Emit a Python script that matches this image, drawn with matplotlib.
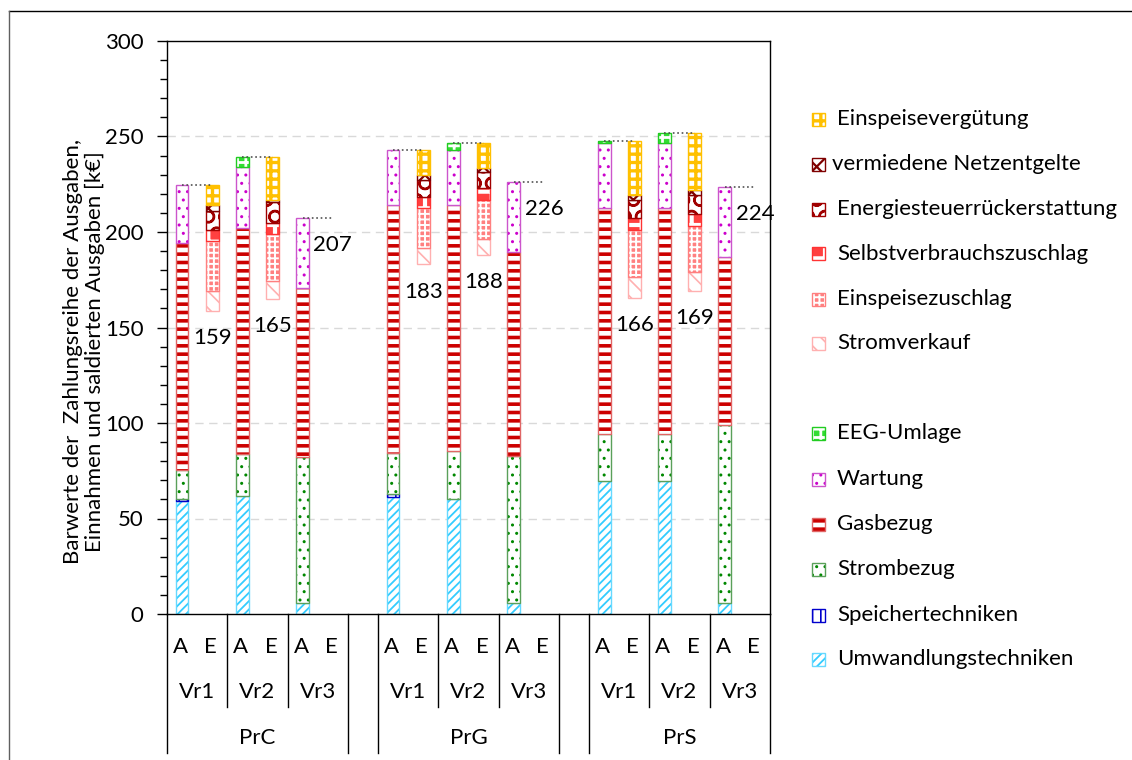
import matplotlib
matplotlib.use('Agg')
import matplotlib.pyplot as plt
from matplotlib.patches import Rectangle
from matplotlib.lines import Line2D
import matplotlib.transforms as mtransforms
from matplotlib.ticker import MultipleLocator

plt.rcParams['font.family'] = ['Lato', 'DejaVu Sans']

# *** Data (k€), order: PrC Vr1..Vr3, PrG Vr1..Vr3, PrS Vr1..Vr3 ***
groups = ['PrC', 'PrG', 'PrS']
variants = ['Vr1', 'Vr2', 'Vr3']

# Ausgaben (A)
umwandlung = [59.0, 62.0, 5.8, 61.5, 60.2, 5.8, 69.8, 69.8, 5.8]
speicher = [1.2, 0.0, 0.0, 1.3, 0.0, 0.0, 0.0, 0.0, 0.0]
strombezug = [15.2, 21.8, 76.6, 21.5, 25.0, 77.1, 24.5, 24.5, 93.2]
gasbezug = [118.6, 118.4, 88.3, 129.6, 128.7, 106.5, 118.3, 118.3, 87.8]
wartung = [30.7, 31.7, 36.5, 29.1, 29.1, 36.7, 34.1, 33.9, 36.9]
eeg_umlage = [0.0, 5.6, 0.0, 0.0, 3.7, 0.0, 1.2, 5.4, 0.0]

# Einnahmen (E)
stromverkauf = [10.2, 9.8, 0.0, 8.5, 8.4, 0.0, 10.6, 9.9, 0.0]
einspeisezuschlag = [26.2, 24.4, 0.0, 21.1, 20.6, 0.0, 24.8, 24.5, 0.0]
selbstverbrauch = [5.6, 5.8, 0.0, 5.6, 5.9, 0.0, 6.3, 6.1, 0.0]
energiesteuer = [10.4, 11.0, 0.0, 8.8, 8.4, 0.0, 9.1, 10.1, 0.0]
netzentgelte = [3.0, 1.2, 0.0, 2.6, 2.1, 0.0, 3.1, 2.5, 0.0]
einspeiseverguetung = [10.5, 22.5, 0.0, 13.4, 13.3, 0.0, 28.3, 29.8, 0.0]

# name: (face, hatch colour, hatch, outline, hatch linewidth)
styles = {
	'Umwandlungstechniken': ('white', '#33CCFF', '////', '#66D9FF', 1.3),
	'Speichertechniken': ('white', '#0000CC', '||', '#0000CC', 1.2),
	'Strombezug': ('white', '#008800', '..', '#5AA05A', 1.0),
	'Gasbezug': ('white', '#CC0000', '--', '#E06666', 2.6),
	'Wartung': ('white', '#CC00CC', '..', '#CC55CC', 1.0),
	'EEG-Umlage': ('#33DD33', 'white', '++', '#22CC22', 2.0),
	'Einspeisevergütung': ('white', '#FFC000', '++', '#FFC000', 2.4),
	'vermiedene Netzentgelte': ('white', '#7F0000', 'xx', '#7F0000', 1.6),
	'Energiesteuerrückerstattung': ('white', '#A00000', 'O', '#A00000', 1.6),
	'Selbstverbrauchszuschlag': ('#FF4040', 'white', '+', '#FF3333', 3.0),
	'Einspeisezuschlag': ('#FF8080', 'white', '+++', '#FF8080', 1.4),
	'Stromverkauf': ('white', '#FFB0B0', '\\\\', '#FFB0B0', 1.2),
}

ausgaben = [('Umwandlungstechniken', umwandlung), ('Speichertechniken', speicher),
	('Strombezug', strombezug), ('Gasbezug', gasbezug), ('Wartung', wartung),
	('EEG-Umlage', eeg_umlage)]
einnahmen = [('Stromverkauf', stromverkauf), ('Einspeisezuschlag', einspeisezuschlag),
	('Selbstverbrauchszuschlag', selbstverbrauch), ('Energiesteuerrückerstattung', energiesteuer),
	('vermiedene Netzentgelte', netzentgelte), ('Einspeisevergütung', einspeiseverguetung)]


def styled_patch(name, xy, w, h, **kw):
	face, hcol, hatch, edge, hlw = styles[name]
	p = Rectangle(xy, w, h, facecolor=face, edgecolor=hcol, hatch=hatch, linewidth=0, **kw)
	if hasattr(p, 'set_hatch_linewidth'):
		p.set_hatch_linewidth(hlw)
	o = Rectangle(xy, w, h, fill=False, edgecolor=edge, linewidth=1.0, **kw)
	return p, o


def draw_seg(ax, name, x, bottom, height, width):
	if height <= 0:
		return
	for patch in styled_patch(name, (x - width / 2, bottom), width, height, zorder=2):
		ax.add_patch(patch)


W, H = 1132, 760
FS = 16
fig = plt.figure(figsize=(W / 100, H / 100), dpi=100)
ax = fig.add_axes([167 / W, 1 - 614 / H, (770 - 167) / W, (614 - 41) / H])

barw = 0.42
for gi in range(3):
	for vi in range(3):
		i = gi * 3 + vi
		xa = gi * 7 + vi * 2
		xe = xa + 1
		bottom = 0.0
		for name, vals in ausgaben:
			draw_seg(ax, name, xa, bottom, vals[i], barw)
			bottom += vals[i]
		total = bottom
		income = sum(vals[i] for _, vals in einnahmen)
		saldo = total - income
		b = saldo
		for name, vals in einnahmen:
			draw_seg(ax, name, xe, b, vals[i], barw)
			b += vals[i]
		ax.plot([xa, xe], [total, total], color='#505050', linestyle=':', linewidth=1.2, zorder=3)
		ax.annotate('%d' % round(saldo), (xe, saldo), xytext=(0, -19.5), textcoords='offset points',
			ha='center', va='center', fontsize=FS)

ax.set_xlim(-0.5, 19.5)
ax.set_ylim(0, 300)
ax.yaxis.set_major_locator(MultipleLocator(50))
ax.yaxis.set_minor_locator(MultipleLocator(10))
ax.tick_params(axis='y', which='major', direction='out', length=7, width=1, labelsize=FS, pad=10)
ax.tick_params(axis='y', which='minor', direction='out', length=5, width=1)
ax.set_xticks([])
for y in range(50, 300, 50):
	ax.axhline(y, color='#D9D9D9', linestyle=(0, (6, 4)), linewidth=1, zorder=0)
for s in ax.spines.values():
	s.set_linewidth(1)

# multi-level category axis below the plot
trans = mtransforms.blended_transform_factory(ax.transData, ax.transAxes)
axh = 614 - 41
row_ae = -(647 - 614) / axh
row_vr = -(692 - 614) / axh
row_pr = -(738 - 614) / axh
vr_end = -(707 - 614) / axh
pr_end = -(753 - 614) / axh
for gi in range(3):
	start = gi * 7
	for vi in range(3):
		xa = start + vi * 2
		ax.text(xa - 0.05, row_ae, 'A', transform=trans, ha='center', va='center', fontsize=FS)
		ax.text(xa + 1 - 0.05, row_ae, 'E', transform=trans, ha='center', va='center', fontsize=FS)
		ax.text(xa + 0.5, row_vr, variants[vi], transform=trans, ha='center', va='center', fontsize=FS)
		if vi > 0:
			ax.plot([xa - 0.5] * 2, [0, vr_end], transform=trans, color='black', lw=1, clip_on=False)
	ax.text(start + 2.5, row_pr, groups[gi], transform=trans, ha='center', va='center', fontsize=FS)
	ax.plot([start - 0.5] * 2, [0, pr_end], transform=trans, color='black', lw=1, clip_on=False)
	ax.plot([start + 5.5] * 2, [0, pr_end], transform=trans, color='black', lw=1, clip_on=False)

fig.text(84 / W, 1 - 352 / H, 'Barwerte der  Zahlungsreihe der Ausgaben,\nEinnahmen und saldierten Ausgaben [k€]',
	rotation=90, ha='center', va='center', multialignment='center', fontsize=FS, linespacing=1.15)

# legend drawn by hand
legend_top = ['Einspeisevergütung', 'vermiedene Netzentgelte', 'Energiesteuerrückerstattung',
	'Selbstverbrauchszuschlag', 'Einspeisezuschlag', 'Stromverkauf']
legend_bottom = ['EEG-Umlage', 'Wartung', 'Gasbezug', 'Strombezug', 'Speichertechniken',
	'Umwandlungstechniken']
entries = list(zip(legend_top, [119, 164, 209, 254, 299, 343])) + \
	list(zip(legend_bottom, [433, 479, 524, 569, 615, 659]))
for name, ypx in entries:
	for patch in styled_patch(name, (812 / W, 1 - (ypx + 6.5) / H), 13 / W, 13 / H,
			transform=fig.transFigure):
		fig.add_artist(patch)
	tx = 832 if name == 'vermiedene Netzentgelte' else 837
	fig.text(tx / W, 1 - ypx / H, name, ha='left', va='center', fontsize=FS)

# outer frame
fig.add_artist(Line2D([9 / W, 1], [1 - 11 / H, 1 - 11 / H], color='black', lw=1, transform=fig.transFigure))
fig.add_artist(Line2D([9 / W, 9 / W], [1 - 11 / H, 0], color='#606060', lw=1, transform=fig.transFigure))

fig.savefig('out.png', dpi=100)
